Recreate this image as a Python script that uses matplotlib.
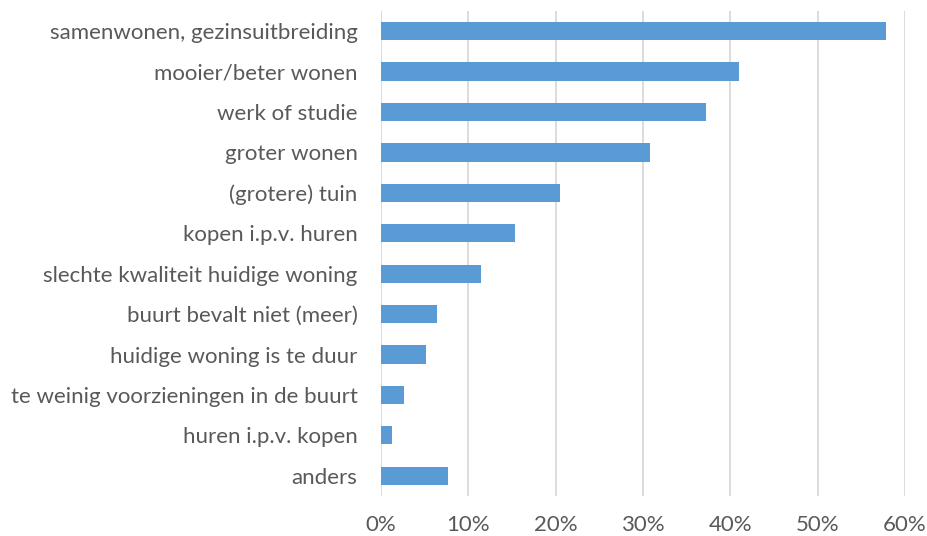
import matplotlib.pyplot as plt
from matplotlib.ticker import PercentFormatter

redenen = ['samenwonen, gezinsuitbreiding', 'mooier/beter wonen', 'werk of studie',
           'groter wonen', '(grotere) tuin', 'kopen i.p.v. huren',
           'slechte kwaliteit huidige woning', 'buurt bevalt niet (meer)',
           'huidige woning is te duur', 'te weinig voorzieningen in de buurt',
           'huren i.p.v. kopen', 'anders']
aandeel = [57.8, 41.0, 37.2, 30.8, 20.5, 15.4, 11.4, 6.4, 5.1, 2.6, 1.3, 7.7]
x_ticks = [0, 10, 20, 30, 40, 50, 60]

plt.rcParams['font.family'] = ['Lato', 'DejaVu Sans']

fig = plt.figure(figsize=(9.28, 5.36), dpi=100)
ax = fig.add_axes([0.4106, 0.0746, 0.5644, 0.905])

posities = range(len(redenen))
ax.barh(posities, aandeel, height=0.45, color='#5B9BD5', zorder=3)
ax.set_yticks(list(posities))
ax.set_yticklabels(redenen)
ax.set_ylim(len(redenen) - 0.5, -0.5)

ax.set_xlim(0, 60)
ax.set_xticks(x_ticks)
ax.xaxis.set_major_formatter(PercentFormatter(decimals=0))
ax.grid(axis='x', color='#D9D9D9', linewidth=1.3, zorder=0)

for spine in ax.spines.values():
    spine.set_visible(False)
ax.tick_params(axis='both', length=0, labelsize=16, colors='#595959')
ax.tick_params(axis='y', pad=17)
ax.tick_params(axis='x', pad=14)

fig.savefig('out.png', dpi=100)
